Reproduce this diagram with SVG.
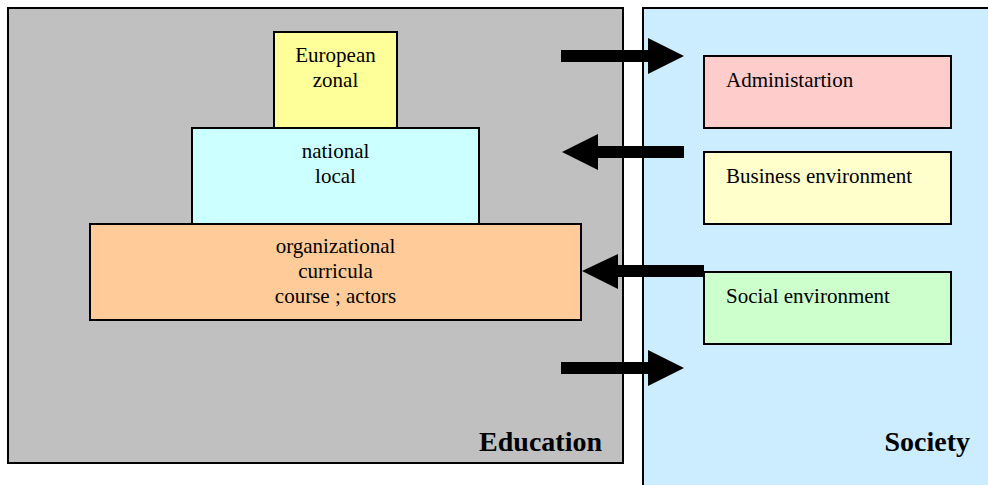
<svg xmlns="http://www.w3.org/2000/svg" width="988" height="485" viewBox="0 0 988 485">
  <style>
    .box { stroke: #000; stroke-width: 2; }
    .t { font-family: "Liberation Serif", "Times New Roman", serif; font-size: 21px; fill: #000; }
    .c { text-anchor: middle; }
    .title { font-family: "Liberation Serif", "Times New Roman", serif; font-size: 28px; font-weight: bold; fill: #000; text-anchor: end; }
    .arrow { fill: #000; }
  </style>
  <rect width="988" height="485" fill="#fff"/>

  <g id="education">
    <rect class="box" x="8" y="8" width="615" height="455" fill="#C0C0C0"/>
    <text class="title" x="602" y="451">Education</text>
  </g>

  <g id="society">
    <rect class="box" x="643" y="8" width="360" height="490" fill="#CCECFF"/>
    <text class="title" x="970" y="451">Society</text>
  </g>

  <g id="european">
    <rect class="box" x="274" y="32" width="123" height="96" fill="#FFFF99"/>
    <text class="t c" x="335.5" y="62">European</text>
    <text class="t c" x="335.5" y="87">zonal</text>
  </g>

  <g id="national">
    <rect class="box" x="192" y="128" width="287" height="96" fill="#CCFFFF"/>
    <text class="t c" x="335.5" y="158">national</text>
    <text class="t c" x="335.5" y="183">local</text>
  </g>

  <g id="organizational">
    <rect class="box" x="90" y="224" width="491" height="96" fill="#FFCC99"/>
    <text class="t c" x="335.5" y="253">organizational</text>
    <text class="t c" x="335.5" y="278">curricula</text>
    <text class="t c" x="335.5" y="303">course ; actors</text>
  </g>

  <g id="administration">
    <rect class="box" x="704" y="56" width="247" height="72" fill="#FFCCCC"/>
    <text class="t" x="726" y="87">Administartion</text>
  </g>

  <g id="business">
    <rect class="box" x="704" y="152" width="247" height="72" fill="#FFFFCC"/>
    <text class="t" x="726" y="183">Business environment</text>
  </g>

  <g id="social">
    <rect class="box" x="704" y="272" width="247" height="72" fill="#CCFFCC"/>
    <text class="t" x="726" y="303">Social environment</text>
  </g>

  <g id="connectors">
    <!-- education to society, top -->
    <polygon class="arrow" points="561,50 648,50 648,38 684,56 648,74 648,62 561,62"/>
    <!-- business environment to education -->
    <polygon class="arrow" points="684,146 598,146 598,134 562,152 598,170 598,158 684,158"/>
    <!-- social environment to organizational level -->
    <polygon class="arrow" points="704,265 618,265 618,254 582,271 618,289 618,277 704,277"/>
    <!-- education to society, bottom -->
    <polygon class="arrow" points="561,362 648,362 648,350 684,368 648,386 648,374 561,374"/>
  </g>
</svg>
